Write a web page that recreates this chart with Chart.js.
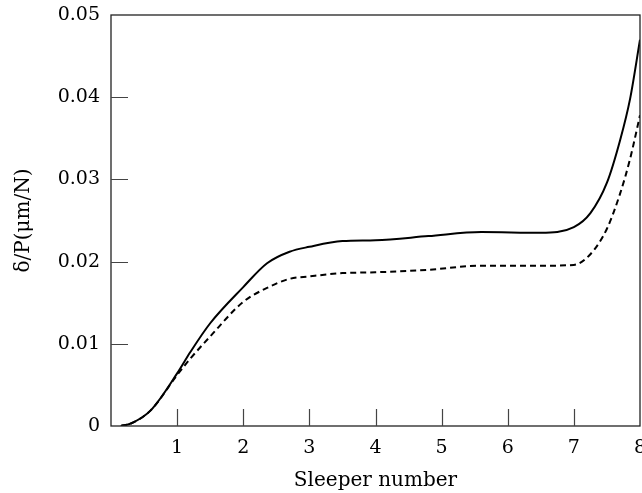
<!DOCTYPE html>
<html>
<head>
<meta charset="utf-8">
<script src="https://cdn.jsdelivr.net/npm/chart.js@4"></script>
<style>
  html, body { margin: 0; padding: 0; background: #fff; }
  #wrap { width: 642px; height: 493px; }
</style>
</head>
<body>
<div id="wrap"><canvas id="grafico"></canvas></div>
<script>
// valores
const sleeperPos = [0.15, 0.3, 0.6, 1.0, 1.2, 1.5, 2.0, 2.36, 2.7, 3.0, 3.5, 4.0, 4.8, 5.6, 6.5, 7.0, 7.25, 7.5, 7.7, 7.85, 8.0];
const solidVals  = [0, 0.0003, 0.0019, 0.0064, 0.0090, 0.0125, 0.0169, 0.0198, 0.0212, 0.0218, 0.0225, 0.0226, 0.0231, 0.0236, 0.0235, 0.0242, 0.0259, 0.0296, 0.0348, 0.0398, 0.0470];
const dashedVals = [0, 0.0003, 0.0019, 0.0062, 0.0082, 0.0109, 0.0151, 0.0168, 0.0179, 0.0182, 0.0186, 0.0187, 0.0190, 0.0195, 0.0195, 0.0196, 0.0209, 0.0240, 0.0283, 0.0325, 0.0378];
const xTicks = [1, 2, 3, 4, 5, 6, 7, 8];
const yTicks = [0, 0.01, 0.02, 0.03, 0.04, 0.05];

const fonte = { family: "DejaVu Serif", size: 19 };
const fonteTitulo = { family: "DejaVu Serif", size: 20 };

// moldura + ticks para dentro
const moldura = {
    id: "moldura",
    afterDraw(chart) {
        const { ctx, chartArea: a, scales } = chart;
        ctx.save();
        ctx.strokeStyle = "#222";
        ctx.lineWidth = 1.3;
        ctx.strokeRect(a.left, a.top, a.right - a.left, a.bottom - a.top);
        ctx.strokeStyle = "#444";
        ctx.lineWidth = 1.2;
        ctx.beginPath();
        xTicks.slice(0, -1).forEach(v => {
            const px = Math.round(scales.x.getPixelForValue(v)) + 0.5;
            ctx.moveTo(px, a.bottom);
            ctx.lineTo(px, a.bottom - 17);
        });
        yTicks.slice(1, -1).forEach(v => {
            const py = Math.round(scales.y.getPixelForValue(v)) + 0.5;
            ctx.moveTo(a.left, py);
            ctx.lineTo(a.left + 17, py);
        });
        ctx.stroke();
        ctx.restore();
    }
};

new Chart(document.getElementById("grafico"), {
    type: "line",
    data: {
        datasets: [
            {
                data: sleeperPos.map((x, i) => ({ x, y: solidVals[i] })),
                borderColor: "#000",
                borderWidth: 2,
                pointRadius: 0,
                cubicInterpolationMode: "monotone"
            },
            {
                data: sleeperPos.map((x, i) => ({ x, y: dashedVals[i] })),
                borderColor: "#000",
                borderWidth: 2,
                borderDash: [6, 4],
                pointRadius: 0,
                cubicInterpolationMode: "monotone"
            }
        ]
    },
    options: {
        responsive: true,
        maintainAspectRatio: false,
        animation: false,
        layout: { padding: { top: 15, right: 2, left: 0, bottom: 0 } },
        plugins: { legend: { display: false }, tooltip: { enabled: false } },
        scales: {
            x: {
                type: "linear",
                min: 0,
                max: 8,
                grid: { display: false, drawTicks: false },
                border: { display: false },
                afterBuildTicks: s => { s.ticks = xTicks.map(v => ({ value: v })); },
                afterFit: s => { s.height = 67; s.paddingRight = 0; s.paddingLeft = 0; },
                ticks: {
                    color: "#000",
                    font: fonte,
                    padding: 11,
                    maxRotation: 0,
                    callback: v => String(v)
                },
                title: {
                    display: true,
                    text: "Sleeper number",
                    color: "#000",
                    font: fonteTitulo,
                    padding: { top: 0, bottom: 0 }
                }
            },
            y: {
                min: 0,
                max: 0.05,
                grid: { display: false, drawTicks: false },
                border: { display: false },
                afterBuildTicks: s => { s.ticks = yTicks.map(v => ({ value: v })); },
                afterFit: s => { s.width = 111; s.paddingTop = 0; s.paddingBottom = 0; },
                ticks: {
                    color: "#000",
                    font: fonte,
                    padding: 11,
                    callback: v => v === 0 ? "0" : v.toFixed(2)
                },
                title: {
                    display: true,
                    text: "δ/P(μm/N)",
                    color: "#000",
                    font: fonteTitulo,
                    padding: { top: 12, bottom: 0 }
                }
            }
        }
    },
    plugins: [moldura]
});
</script>
</body>
</html>
